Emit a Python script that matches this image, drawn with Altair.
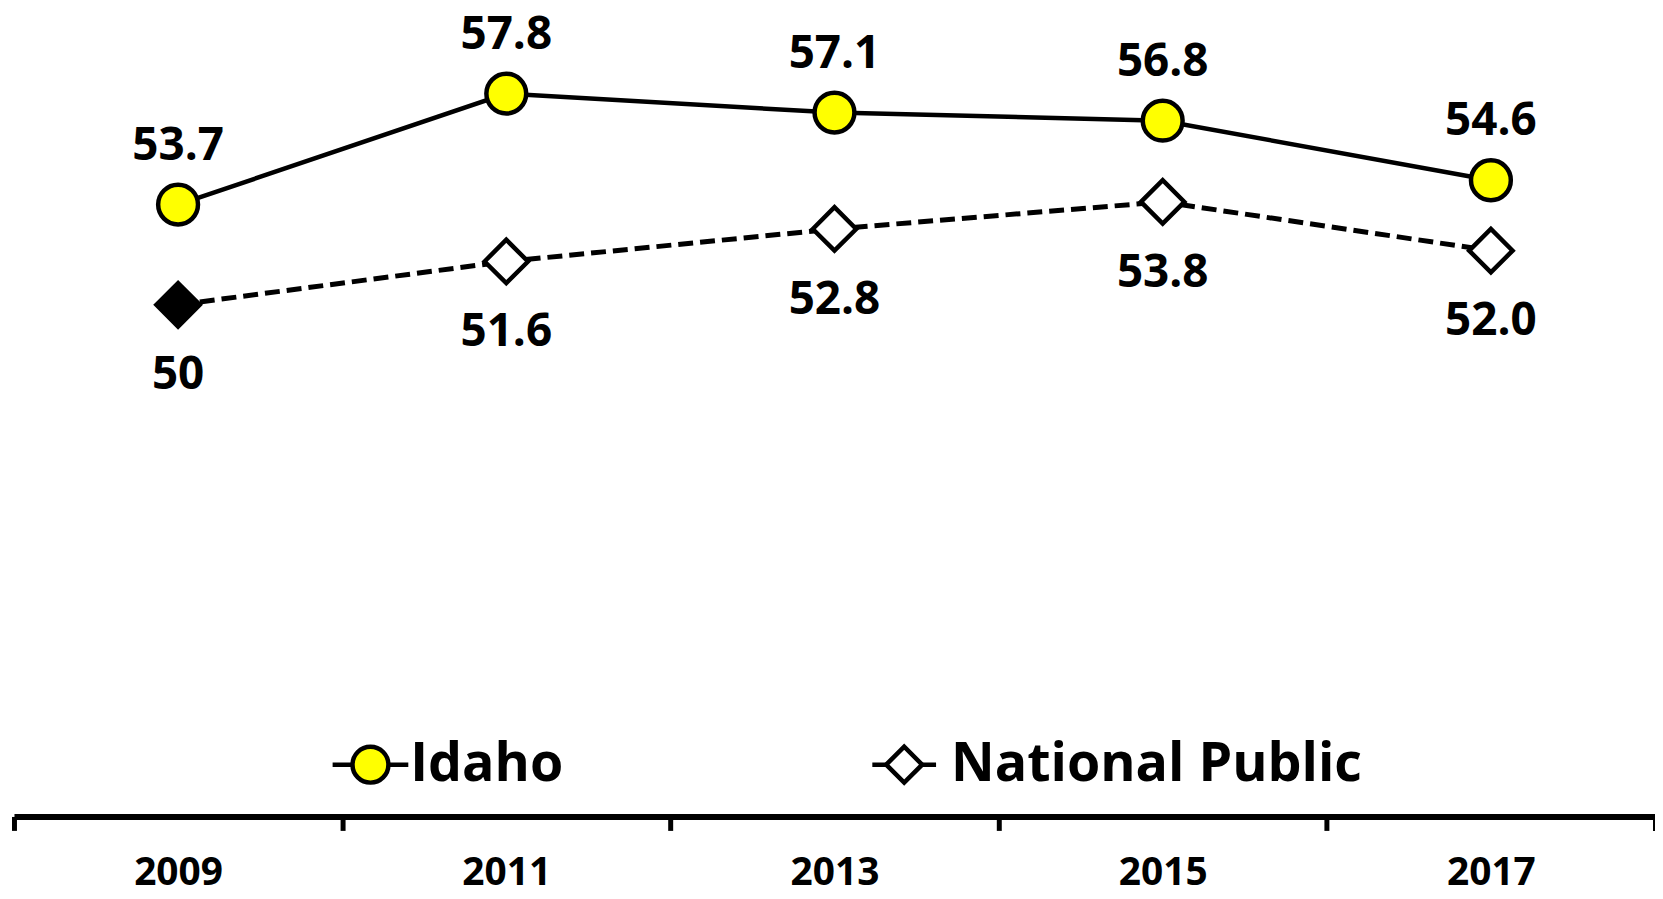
import altair as alt
import pandas as pd

years = ["2009", "2011", "2013", "2015", "2017"]
idaho = [53.7, 57.8, 57.1, 56.8, 54.6]
national = [50.0, 51.6, 52.8, 53.8, 52.0]
national_labels = ["50", "51.6", "52.8", "53.8", "52.0"]
idaho_labels = ["53.7", "57.8", "57.1", "56.8", "54.6"]
series = ["Idaho", "National Public"]

df_i = pd.DataFrame({"year": years, "value": idaho, "label": idaho_labels})
df_n = pd.DataFrame({"year": years, "value": national, "label": national_labels})

FONT = "Open Sans"
x = alt.X("year:N", sort=years,
          scale=alt.Scale(type="band", paddingInner=0, paddingOuter=0),
          axis=alt.Axis(title=None, orient="bottom", domainColor="black", domainWidth=6,
                        tickColor="black", tickWidth=5, tickSize=14, tickBand="extent",
                        labelFont=FONT, labelFontSize=39, labelFontWeight="bold",
                        labelColor="black", labelAngle=0, labelPadding=42,
                        labelBaseline="middle", grid=False))
y = alt.Y("value:Q", scale=alt.Scale(domain=[31.1, 59.9], nice=False, zero=False), axis=None)

base_i = alt.Chart(df_i).encode(x=x, y=y)
base_n = alt.Chart(df_n).encode(x=x, y=y)

line_i = base_i.mark_line(color="black", strokeWidth=4.5)
line_n = base_n.mark_line(color="black", strokeWidth=5, strokeDash=[15, 7])
pts_i = base_i.mark_point(shape="circle", filled=True, fill="#FFFF00", stroke="black",
                          strokeWidth=4.5, size=1600, opacity=1)
pts_n = base_n.mark_point(shape="diamond", filled=True, stroke="black", strokeWidth=4.5,
                          size=1900, opacity=1).encode(
    fill=alt.condition(alt.datum.year == years[0], alt.value("black"), alt.value("white")))
txt_i = base_i.mark_text(font=FONT, fontSize=46, fontWeight="bold", color="black",
                         dy=-59, baseline="middle").encode(text="label:N")
txt_n = base_n.mark_text(font=FONT, fontSize=46, fontWeight="bold", color="black",
                         dy=71, baseline="middle").encode(text="label:N")

# legend
leg_y = 731
df_l1 = pd.DataFrame({"name": [series[0]]})
df_l2 = pd.DataFrame({"name": [series[1]]})
l1_line = alt.Chart(df_l1).mark_rule(color="black", strokeWidth=4.5).encode(
    x=alt.value(320), x2=alt.value(396), y=alt.value(leg_y))
l1_pt = alt.Chart(df_l1).mark_point(shape="circle", filled=True, fill="#FFFF00", stroke="black",
                                    strokeWidth=4.5, size=1300, opacity=1).encode(
    x=alt.value(358), y=alt.value(leg_y))
l1_txt = alt.Chart(df_l1).mark_text(font=FONT, fontSize=54, fontWeight="bold", color="black",
                                    align="left", baseline="middle").encode(
    x=alt.value(398), y=alt.value(leg_y), text="name:N")
l2_line = alt.Chart(df_l2).mark_rule(color="black", strokeWidth=4.5).encode(
    x=alt.value(862), x2=alt.value(926), y=alt.value(leg_y))
l2_pt = alt.Chart(df_l2).mark_point(shape="diamond", filled=True, fill="white", stroke="black",
                                    strokeWidth=4.5, size=1300, opacity=1).encode(
    x=alt.value(894), y=alt.value(leg_y))
l2_txt = alt.Chart(df_l2).mark_text(font=FONT, fontSize=54, fontWeight="bold", color="black",
                                    align="left", baseline="middle").encode(
    x=alt.value(941), y=alt.value(leg_y), text="name:N")

chart = alt.layer(line_i, line_n, pts_i, pts_n, txt_i, txt_n,
                  l1_line, l1_pt, l1_txt, l2_line, l2_pt, l2_txt).properties(
    width=1648, height=783,
    autosize=alt.AutoSizeParams(type="none"),
    padding={"left": 6, "top": 27, "right": 0, "bottom": 81},
    background="white",
).configure_view(stroke=None)

chart.save("out.html", embed_options={"renderer": "svg", "actions": False})
